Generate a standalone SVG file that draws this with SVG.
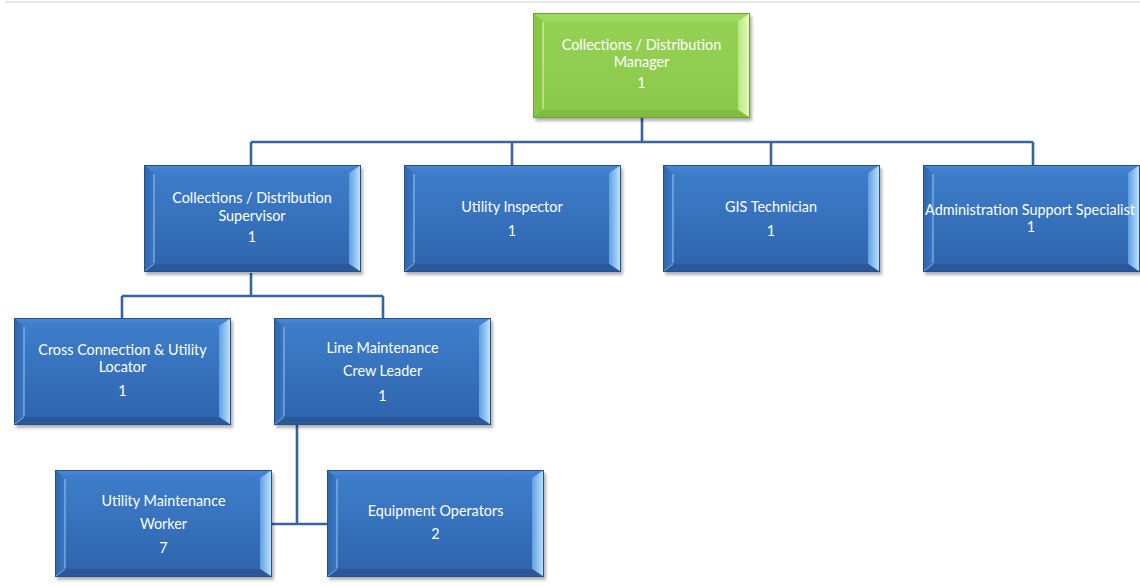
<svg xmlns="http://www.w3.org/2000/svg" xmlns:xlink="http://www.w3.org/1999/xlink" width="1140" height="586" viewBox="0 0 1140 586">
<style>
.t{font-family:Lato,"Open Sans","Liberation Sans",sans-serif;font-size:14.4px;fill:#ffffff;text-anchor:middle}
.c{stroke:#3a64a0;stroke-width:2.6;fill:none}
</style>
<defs>
<filter id="sh" x="-10%" y="-10%" width="120%" height="130%"><feGaussianBlur stdDeviation="1.6"/></filter>
<linearGradient id="bFace" x1="0" y1="0" x2="0" y2="1"><stop offset="0" stop-color="#3f7fcc"/><stop offset="1" stop-color="#2e63ac"/></linearGradient>
<linearGradient id="bTop" x1="0" y1="0" x2="0" y2="1"><stop offset="0" stop-color="#4a88d2"/><stop offset="1" stop-color="#3d7cc8"/></linearGradient>
<linearGradient id="bRight" x1="0" y1="0" x2="1" y2="0"><stop offset="0" stop-color="#5e9fe2"/><stop offset="1" stop-color="#c4e6ff"/></linearGradient>
<linearGradient id="bLeft" x1="0" y1="0" x2="1" y2="0"><stop offset="0" stop-color="#2f64ad"/><stop offset="1" stop-color="#3b76c2"/></linearGradient>
<linearGradient id="gFace" x1="0" y1="0" x2="0" y2="1"><stop offset="0" stop-color="#95d255"/><stop offset="1" stop-color="#8bc84a"/></linearGradient>
<linearGradient id="gRight" x1="0" y1="0" x2="1" y2="0"><stop offset="0" stop-color="#b8e57c"/><stop offset="1" stop-color="#ecfcc6"/></linearGradient>
<g id="blueBox">
<rect x="2" y="3" width="217" height="107" fill="#000" opacity="0.3" filter="url(#sh)"/>
<rect x="0" y="0" width="217" height="107" fill="url(#bFace)"/>
<polygon points="0,0 217,0 205,8 10,8" fill="url(#bTop)"/>
<polygon points="0,0 10,8 10,99 0,107" fill="url(#bLeft)"/>
<polygon points="217,0 217,107 205,99 205,8" fill="url(#bRight)"/>
<polygon points="0,107 10,99 205,99 217,107" fill="#2a5899"/>
<line x1="10" y1="9" x2="10" y2="98" stroke="#9ccbf5" stroke-width="1.2" opacity="0.8"/>
<line x1="1" y1="106" x2="10" y2="99" stroke="#9ccbf5" stroke-width="1" opacity="0.7"/>
<rect x="0.5" y="0.5" width="216" height="106" fill="none" stroke="#26508c" stroke-width="1"/>
</g>
<g id="greenBox">
<rect x="2" y="3" width="217" height="105" fill="#000" opacity="0.3" filter="url(#sh)"/>
<rect x="0" y="0" width="217" height="105" fill="url(#gFace)"/>
<polygon points="0,0 217,0 205,8 10,8" fill="#9dd85f"/>
<polygon points="0,0 10,8 10,97 0,105" fill="#88c646"/>
<polygon points="217,0 217,105 205,97 205,8" fill="url(#gRight)"/>
<polygon points="0,105 10,97 205,97 217,105" fill="#80bc42"/>
<line x1="10" y1="9" x2="10" y2="96" stroke="#def7b0" stroke-width="1.2" opacity="0.9"/>
<rect x="0.5" y="0.5" width="216" height="104" fill="none" stroke="#6e9e38" stroke-width="1"/>
</g>
</defs>
<rect x="0" y="0" width="1140" height="586" fill="#ffffff"/>
<line x1="5" y1="2" x2="1140" y2="2" stroke="#e6e6e6" stroke-width="2"/>
<g id="connectors">
<path class="c" d="M642,118 V142 M251,142 H1033 M251,142 V165 M512,142 V165 M771,142 V165 M1033,142 V165"/>
<path class="c" d="M251,273 V296 M122,296 H383 M122,296 V318 M383,296 V318"/>
<path class="c" d="M297,425 V524 M272,524 H327"/>
</g>
<g id="manager"><use xlink:href="#greenBox" x="533" y="13"/>
<text class="t" x="641.5" y="50">Collections / Distribution</text><text class="t" x="641.5" y="67">Manager</text><text class="t" x="641.5" y="88">1</text></g>
<g id="supervisor"><use xlink:href="#blueBox" x="144" y="165"/>
<text class="t" x="252" y="203">Collections / Distribution</text><text class="t" x="252" y="221">Supervisor</text><text class="t" x="252" y="242">1</text></g>
<g id="inspector"><use xlink:href="#blueBox" x="404" y="165"/>
<text class="t" x="512" y="212">Utility Inspector</text><text class="t" x="512" y="236">1</text></g>
<g id="gis"><use xlink:href="#blueBox" x="663" y="165"/>
<text class="t" x="771" y="212">GIS Technician</text><text class="t" x="771" y="236">1</text></g>
<g id="admin"><use xlink:href="#blueBox" x="923" y="165"/>
<text class="t" x="1030" y="215">Administration Support Specialist</text><text class="t" x="1031" y="232">1</text></g>
<g id="crossconn"><use xlink:href="#blueBox" x="14" y="318"/>
<text class="t" x="122.5" y="355">Cross Connection &amp; Utility</text><text class="t" x="122.5" y="372">Locator</text><text class="t" x="122.5" y="396">1</text></g>
<g id="crewleader"><use xlink:href="#blueBox" x="274" y="318"/>
<text class="t" x="382.5" y="353">Line Maintenance</text><text class="t" x="382.5" y="376">Crew Leader</text><text class="t" x="382.5" y="401">1</text></g>
<g id="worker"><use xlink:href="#blueBox" x="55" y="470"/>
<text class="t" x="163.5" y="506">Utility Maintenance</text><text class="t" x="163.5" y="529">Worker</text><text class="t" x="163.5" y="553">7</text></g>
<g id="operators"><use xlink:href="#blueBox" x="327" y="470"/>
<text class="t" x="435.5" y="516">Equipment Operators</text><text class="t" x="435.5" y="539">2</text></g>
</svg>
